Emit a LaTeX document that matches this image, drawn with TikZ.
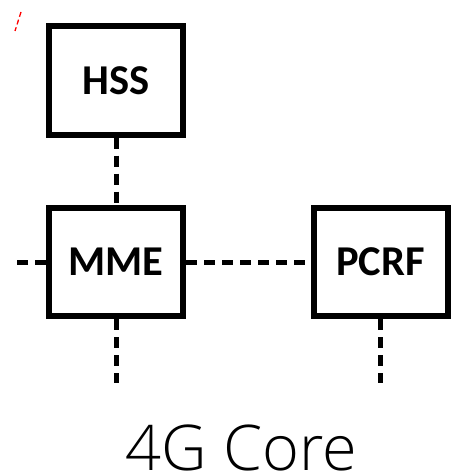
\documentclass[tikz,border=0pt]{standalone}
\usepackage{fontspec}
\setmainfont{Carlito}
\newfontfamily\corefont{Open Sans Light}
\usetikzlibrary{positioning}

\begin{document}
\begin{tikzpicture}[x=1pt,y=-1pt]

	% 定义样式
	\tikzset{
		netbox/.style = {
			draw, line width=6pt,
			minimum width=\boxw, minimum height=\boxh,
			inner sep=0pt,
			font=\fontsize{42.5}{50}\selectfont\bfseries
		},
		iface/.style = {
			line width=5pt,
			dash pattern=on 11pt off 7pt
		}
	}

	% 参数设置
	\def \boxw {134pt}
	\def \boxh {108pt}

	\useasboundingbox (0,0) rectangle (470,476);

	% 网元
	\node[netbox] (hss)  at (116,80.5) {HSS};
	\node[netbox] (mme)  at (116,262)  {MME};
	\node[netbox] (pcrf) at (380.5,262) {PCRF};

	% 接口端点
	\coordinate (mmeL) at (14,262);
	\coordinate (mmeS) at (116,383);
	\coordinate (pcrfS) at (380.5,383);

	% 接口
	\draw[iface] (hss.south) -- (mme.north);
	\draw[iface] (mme.east) -- (pcrf.west);
	\draw[iface] (mme.west) -- (mmeL);
	\draw[iface] (mme.south) -- (mmeS);
	\draw[iface] (pcrf.south) -- (pcrfS);

	% 标题
	\node[font=\corefont\fontsize{63}{72}\selectfont, anchor=base,
		inner sep=0pt, text depth=0pt] (title) at (241.5,470) {4G Core};

	% 红色小标记
	\coordinate (redA) at (21,12);
	\coordinate (redB) at (15,31);
	\draw[red, line width=1.3pt, dash pattern=on 5pt off 3pt] (redA) -- (redB);

\end{tikzpicture}
\end{document}
